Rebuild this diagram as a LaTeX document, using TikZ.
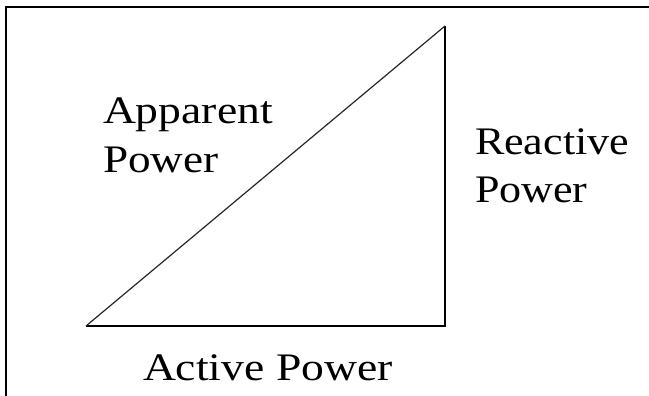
\documentclass[tikz,border=0pt]{standalone}
\usepackage{fontspec}
\setmainfont{Liberation Serif}
\begin{document}
\begin{tikzpicture}[x=1pt,y=-1pt,
  lbl/.style={inner sep=0pt,outer sep=0pt,align=left,font=\fontsize{39}{49}\selectfont,anchor=base west},
  side/.style={draw=black,line width=1.6pt},
  hyp/.style={draw=black!85,line width=1.2pt},
  frame/.style={draw=black,line width=2.2pt}]
\useasboundingbox (0,0) rectangle (649,396);
\coordinate (A) at (86,326);
\coordinate (B) at (445,326);
\coordinate (C) at (445,26);
\draw[side,line join=miter] (A) -- (B) -- (C);
\draw[hyp] (A) -- (C);
\coordinate (tl) at (6,7);
\coordinate (tr) at (649,7);
\coordinate (bl) at (6,396);
\draw[frame] (tr) -- (tl) -- (bl);
\node[lbl] (app) at (103,172) {\scalebox{1.17}[1]{Apparent}\\\scalebox{1.16}[1]{Power}};
\node[lbl] (rea) at (475,203) {\scalebox{1.13}[1]{Reactive}\\\scalebox{1.13}[1]{Power}};
\node[lbl] (act) at (143,380) {\scalebox{1.17}[1]{Active Power}};
\end{tikzpicture}
\end{document}
